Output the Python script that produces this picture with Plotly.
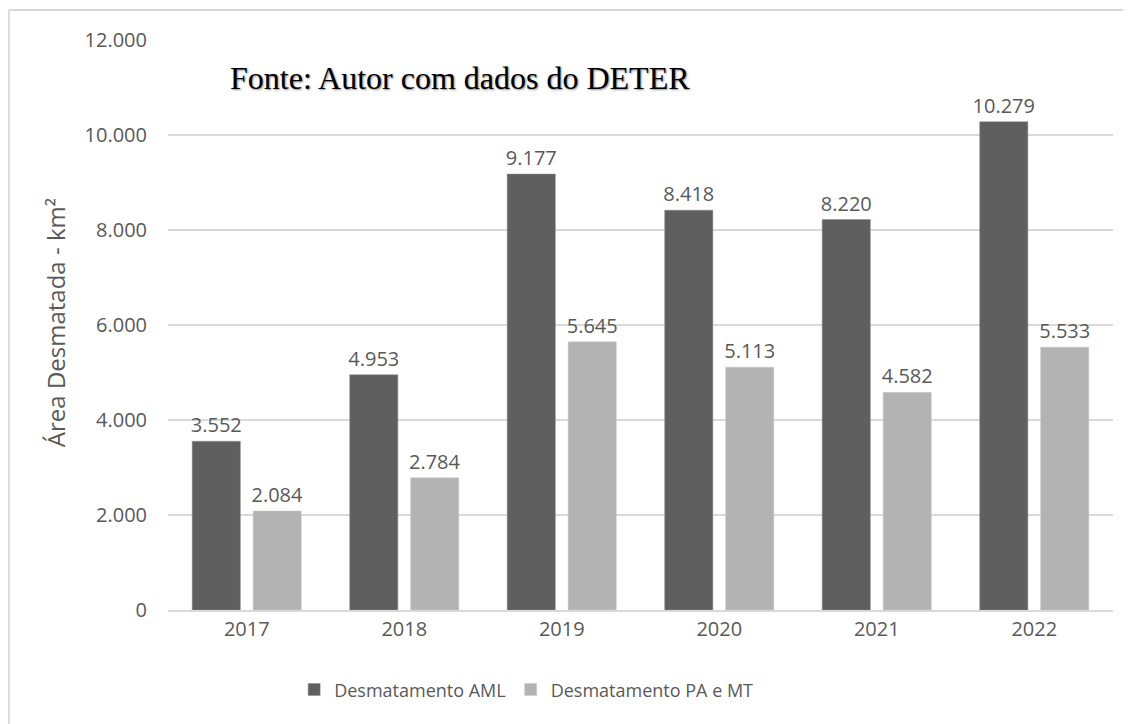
import plotly.graph_objects as go

# Dados (km²)
anos = ['2017', '2018', '2019', '2020', '2021', '2022']
desmat_aml = [3552, 4953, 9177, 8418, 8220, 10279]
desmat_pa_mt = [2084, 2784, 5645, 5113, 4582, 5533]

cinza_texto = '#595959'

fig = go.Figure()

fig.add_trace(go.Bar(x=anos, y=desmat_aml, name='Desmatamento AML',
                     marker=dict(color='#5f5f5f', line=dict(color='#8a8a8a', width=0.5)),
                     texttemplate='%{y:,d}', textposition='outside', constraintext='none',
                     textfont=dict(size=20, color=cinza_texto), cliponaxis=False))

fig.add_trace(go.Bar(x=anos, y=desmat_pa_mt, name='Desmatamento PA e MT',
                     marker=dict(color='#b3b3b3', line=dict(color='#c8c8c8', width=0.5)),
                     texttemplate='%{y:,d}', textposition='outside', constraintext='none',
                     textfont=dict(size=20, color=cinza_texto), cliponaxis=False))

# Texto da fonte dentro da área do gráfico
fig.add_annotation(text='Fonte: Autor com dados do DETER',
                   xref='paper', yref='paper', x=0.0635, y=0.933,
                   xanchor='left', yanchor='middle', showarrow=False,
                   font=dict(family='Liberation Serif', size=32, color='black',
                             shadow='1px 1px 2px #888'))

# Título do eixo y
fig.add_annotation(text='Área Desmatada - km²', textangle=-90,
                   xref='paper', yref='paper', x=-0.1196, y=0.505,
                   xanchor='center', yanchor='middle', showarrow=False,
                   font=dict(size=24, color=cinza_texto))

# Moldura (esquerda e topo)
fig.add_shape(type='line', xref='paper', yref='paper',
              x0=-0.1685, x1=-0.1685, y0=1.0526, y1=-0.25,
              line=dict(color='#d9d9d9', width=2))
fig.add_shape(type='line', xref='paper', yref='paper',
              x0=-0.1685, x1=1.03, y0=1.0526, y1=1.0526,
              line=dict(color='#d9d9d9', width=2))

# a página tem 8px de margem no body, por isso a figura é 8px menor
fig.update_layout(
    width=1123, height=716,
    margin=dict(l=160, r=18, t=32, b=114),
    paper_bgcolor='white', plot_bgcolor='white',
    separators=',.',
    font=dict(family='Open Sans', color=cinza_texto),
    barmode='group', bargap=0.226, bargroupgap=0.21,
    showlegend=True,
    legend=dict(orientation='h', x=0.379, xanchor='center', y=-0.14, yanchor='middle',
                font=dict(size=18, color=cinza_texto), itemwidth=30),
    xaxis=dict(showgrid=False, showline=True, linecolor='#d9d9d9', linewidth=1.5,
               ticks='', tickfont=dict(size=20, color=cinza_texto)),
    yaxis=dict(range=[0, 12000], dtick=2000, tickformat=',d',
               showgrid=True, gridcolor='#d9d9d9', gridwidth=1.5,
               zeroline=False, ticks='', ticklabelstandoff=20,
               tickfont=dict(size=20, color=cinza_texto)),
)

fig.write_html('out.html')
